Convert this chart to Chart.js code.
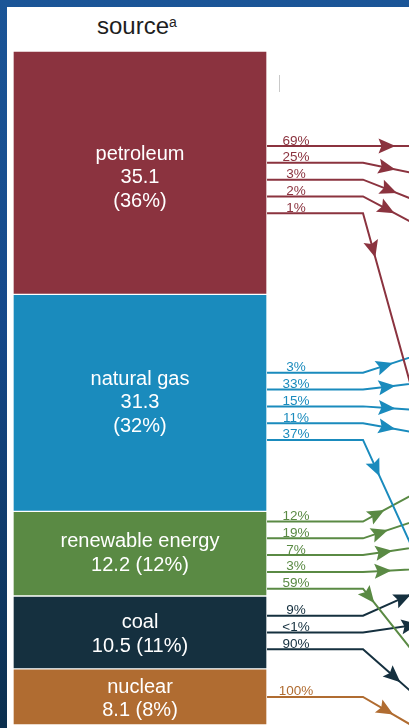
<!DOCTYPE html>
<html>
<head>
<meta charset="utf-8">
<script src="https://cdn.jsdelivr.net/npm/chart.js@4.4.0/dist/chart.umd.min.js"></script>
<style>
  html, body { margin: 0; padding: 0; }
  body {
    width: 409px; height: 728px; overflow: hidden; position: relative;
    background: linear-gradient(180deg, #1b5597 0%, #15488a 45%, #0b2f4e 100%);
    font-family: "Liberation Sans", Arial, sans-serif;
  }
  #panel { position: absolute; left: 7px; top: 7px; width: 402px; height: 721px; background: #fff; }
  #title { position: absolute; left: 90px; top: 7px; font-size: 24px; line-height: 23px; color: #1e1e1e; white-space: nowrap; }
  #title sup { font-size: 14px; vertical-align: 7px; line-height: 0; }
  #tick { position: absolute; left: 272px; top: 68px; width: 1px; height: 17px; background: #c9c9c9; }
  canvas { position: absolute; left: 0; top: 0; }
</style>
</head>
<body>
<div id="panel">
  <div id="title">source<sup>a</sup></div>
  <div id="tick"></div>
  <canvas id="flowChart" width="402" height="721"></canvas>
</div>
<script>
// ─── Data ────────────────────────────────────────────────────
// energy sources, top to bottom (quadrillion Btu)
const sources = ["petroleum", "natural gas", "renewable energy", "coal", "nuclear"];
const sourceValues = [35.1, 31.3, 12.2, 10.5, 8.1];
const sourceShares = ["36%", "32%", "12%", "11%", "8%"];

// sectors the flows run to (they sit off the right edge of this crop)
const sectors = ["transportation", "industrial", "residential", "commercial", "electric power"];

// share of each source sent to each sector, top to bottom
const petroleumFlows = ["69%", "25%", "3%", "2%", "1%"];
const naturalGasFlows = ["3%", "33%", "15%", "11%", "37%"];
const renewableFlows = ["12%", "19%", "7%", "3%", "59%"];
const coalFlows = ["9%", "<1%", "90%"];
const nuclearFlows = ["100%"];

const petroleumTo = ["transportation", "industrial", "residential", "commercial", "electric power"];
const naturalGasTo = ["transportation", "industrial", "residential", "commercial", "electric power"];
const renewableTo = ["transportation", "industrial", "residential", "commercial", "electric power"];
const coalTo = ["industrial", "commercial", "electric power"];
const nuclearTo = ["electric power"];

// ─── Layout / style ──────────────────────────────────────────
const COLORS = ["#8b333f", "#1a8bbd", "#5a8a44", "#15303f", "#b06c31"];
const PLOT_W = 396;        // x units = pixels of the plot area
const BAR_W = 254;
const KNEE_X = 350;
const LABEL_X = 283;
const FLOW_GAP = 2.42;     // y units between two flow lines
const FLOW_SHIFT = [1.0, 0.5, 0.2, 0, 0];
const LABEL_SHIFT = [5, 0, 0, 2, 2];   // px nudge of the names in the bar
const HEAD_W = 15, HEAD_L = 17;
// where each sector box sits, far to the right (x units, y units)
const SECTOR_AT = {
  "transportation": [1041, 13.7],
  "industrial": [1050, 36.6],
  "residential": [1037, 57.8],
  "commercial": [997, 70.5],
  "electric power": [510, 106.6],
};
// x of each arrow head
const ARROW_X = [
  [374, 374, 376, 374, 360],
  [372, 374, 374, 374, 363],
  [364, 367, 371, 370, 356],
  [390, 397, 381],
  [373],
];

Chart.defaults.font.family = '"Liberation Sans", Arial, sans-serif';

// ─── Build datasets ──────────────────────────────────────────
const total = sourceValues.reduce((a, b) => a + b, 0);
let acc = 0;
const segments = sourceValues.map(v => { const s = [acc, acc + v]; acc += v; return s; });

const barDataset = {
  type: "bar",
  label: "source",
  data: segments.map(seg => ({ x: BAR_W / 2, y: seg })),
  backgroundColor: COLORS,
  borderColor: "rgba(255,255,255,0.35)",
  borderWidth: 1,
  borderSkipped: false,
  barThickness: BAR_W,
};

const flowSets = [petroleumFlows, naturalGasFlows, renewableFlows, coalFlows, nuclearFlows];
const flowTargets = [petroleumTo, naturalGasTo, renewableTo, coalTo, nuclearTo];

const flowDatasets = [];
flowSets.forEach((labels, s) => {
  const mid = (segments[s][0] + segments[s][1]) / 2 + FLOW_SHIFT[s];
  labels.forEach((lab, k) => {
    const y0 = mid + (k - (labels.length - 1) / 2) * FLOW_GAP;
    const [tx, ty] = SECTOR_AT[flowTargets[s][k]];
    const ax = ARROW_X[s][k];
    const ay = y0 + (ty - y0) * (ax - KNEE_X) / (tx - KNEE_X);
    flowDatasets.push({
      type: "line",
      label: lab,
      source: s,
      data: [{ x: BAR_W, y: y0 }, { x: KNEE_X, y: y0 }, { x: ax, y: ay }, { x: tx, y: ty }],
      borderColor: COLORS[s],
      borderWidth: 2,
      tension: 0,
      fill: false,
      pointRadius: 0,
    });
  });
});

// ─── Arrow heads, text in the bar and over the flows ─────────
const labelPlugin = {
  id: "flowLabels",
  afterDatasetsDraw(chart) {
    const ctx = chart.ctx;
    ctx.save();

    // arrow heads on the third point of every flow, aimed along the flow
    chart.data.datasets.forEach((ds, i) => {
      if (ds.type !== "line") return;
      const pts = chart.getDatasetMeta(i).data;
      const a = Math.atan2(pts[3].y - pts[1].y, pts[3].x - pts[1].x);
      ctx.save();
      ctx.translate(pts[2].x, pts[2].y);
      ctx.rotate(a);
      ctx.fillStyle = COLORS[ds.source];
      ctx.beginPath();
      ctx.moveTo(HEAD_L / 2, 0);
      ctx.lineTo(-HEAD_L / 2, -HEAD_W / 2);
      ctx.lineTo(-HEAD_L / 2 + 3, 0);
      ctx.lineTo(-HEAD_L / 2, HEAD_W / 2);
      ctx.closePath();
      ctx.fill();
      ctx.restore();
    });

    ctx.textAlign = "center";

    // source names
    ctx.textBaseline = "middle";
    ctx.fillStyle = "#ffffff";
    ctx.font = '20px "Liberation Sans", Arial, sans-serif';
    chart.getDatasetMeta(0).data.forEach((bar, i) => {
      const h = Math.abs(bar.base - bar.y);
      const val = sourceValues[i].toFixed(1);
      const lines = h > 150
        ? [sources[i], val, "(" + sourceShares[i] + ")"]
        : [sources[i], val + " (" + sourceShares[i] + ")"];
      const cy = (bar.base + bar.y) / 2 + LABEL_SHIFT[i];
      lines.forEach((t, j) => {
        ctx.fillText(t, bar.x, cy + (j - (lines.length - 1) / 2) * 23.5);
      });
    });

    // flow percentages
    ctx.textBaseline = "alphabetic";
    ctx.font = '13.5px "Liberation Sans", Arial, sans-serif';
    const lx = chart.scales.x.getPixelForValue(LABEL_X);
    chart.data.datasets.forEach((ds, i) => {
      if (ds.type !== "line") return;
      const p = chart.getDatasetMeta(i).data[0];
      ctx.fillStyle = COLORS[ds.source];
      ctx.fillText(ds.label, lx, p.y - 1.5);
    });
    ctx.restore();
  }
};

new Chart(document.getElementById("flowChart"), {
  type: "bar",
  data: { datasets: [barDataset, ...flowDatasets] },
  options: {
    responsive: false,
    devicePixelRatio: 1,
    animation: false,
    events: [],
    layout: { padding: { left: 6, top: 44, right: 0, bottom: 3 } },
    plugins: { legend: { display: false }, tooltip: { enabled: false } },
    scales: {
      x: { type: "linear", min: 0, max: PLOT_W, offset: false, display: false },
      y: { type: "linear", min: 0, max: total, reverse: true, display: false },
    },
  },
  plugins: [labelPlugin],
});
</script>
</body>
</html>
